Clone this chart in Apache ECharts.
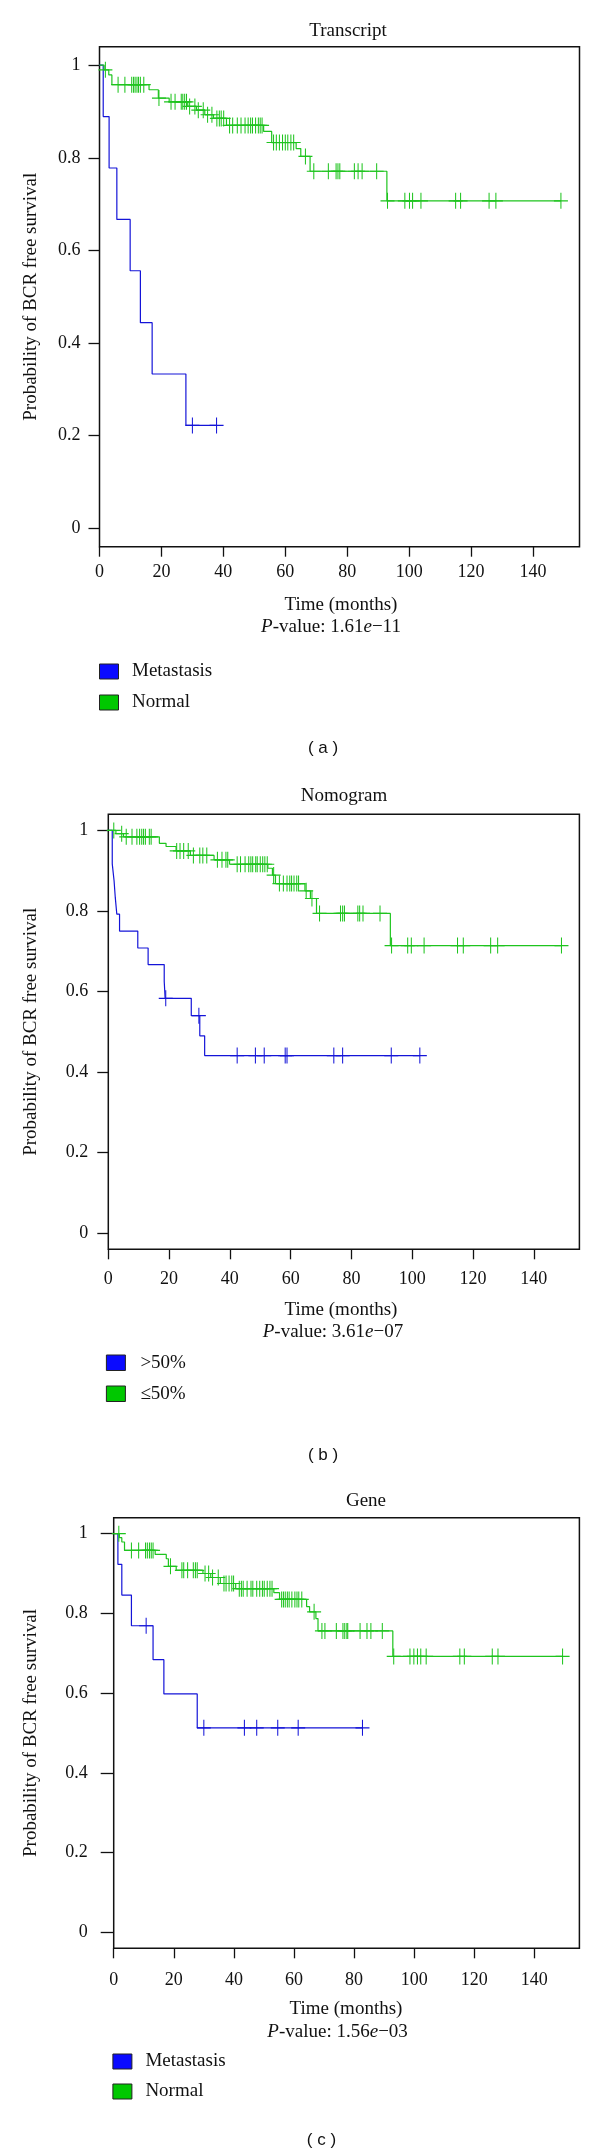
<!DOCTYPE html>
<html>
<head>
<meta charset="utf-8">
<script src="https://cdn.jsdelivr.net/npm/echarts@6/dist/echarts.min.js"></script>
<style>
html,body{margin:0;padding:0;background:#fff;}
#chart{width:600px;height:2154px;}
</style>
</head>
<body>
<div id="chart"></div>
<script>
// ---------- tick labels ----------
const xTicks = [0, 20, 40, 60, 80, 100, 120, 140];
const yTicks = [0, 0.2, 0.4, 0.6, 0.8, 1];

// ---------- titles / texts ----------
const panelTitles = ["Transcript", "Nomogram", "Gene"];
const panelLetters = ["( a )", "( b )", "( c )"];
const pValues = ["1.61", "3.61", "1.56"];
const pExps = ["\u221211", "\u221207", "\u221203"];
const legendNamesA = ["Metastasis", "Normal"];
const legendNamesB = [">50%", "\u226450%"];
const legendNamesC = ["Metastasis", "Normal"];

// ---------- (a) Transcript ----------
const transcriptMetTimes = [0, 1.2, 3.1, 5.6, 9.9, 13.2, 17, 27.9];
const transcriptMetSurv = [1, 0.889, 0.778, 0.667, 0.556, 0.444, 0.333, 0.222];
const transcriptMetCensor = [30, 37.8];

const transcriptNorTimes = [0, 1.5, 3, 4, 16, 19, 22.5, 28.5, 31.3, 34, 36.8, 41, 53, 55.6, 63.5, 65, 68, 92.8];
const transcriptNorSurv = [1, 0.990, 0.979, 0.958, 0.947, 0.929, 0.921, 0.911, 0.903, 0.893, 0.885, 0.870, 0.857, 0.833, 0.820, 0.803, 0.771, 0.707];
const transcriptNorCensor = [1.9, 6, 8.2, 10.4, 11, 11.5, 12.1, 12.6, 13.2, 14.3, 19.2, 23.1, 24.4, 26.4, 26.9, 27.5, 28.1, 29.1, 30.8, 31.9, 33.5, 34.9, 36.3, 37.9, 38.7, 39.3, 40.1, 42, 43, 44.5, 45.7, 47, 48, 48.8, 49.4, 50.4, 51.3, 51.9, 52.5, 56.2, 57.1, 58.1, 59.1, 60, 60.8, 61.8, 62.7, 66.5, 69.2, 73.9, 76.4, 77, 77.6, 82.3, 83.5, 84.8, 89.5, 93, 98.6, 100.1, 101.1, 103.8, 115, 116.6, 125.8, 128, 149];

// ---------- (b) Nomogram ----------
const nomoHighTimes = [0, 1.3, 1.9, 2.3, 2.8, 3.7, 9.7, 13.1, 18.4, 18.7, 27.3, 30.1, 31.7];
const nomoHighSurv = [1, 0.917, 0.875, 0.833, 0.792, 0.75, 0.708, 0.667, 0.625, 0.583, 0.54, 0.49, 0.441];
const nomoHighCensor = [18.9, 29.8, 42.4, 48.4, 51.3, 58.2, 58.8, 74.2, 77.1, 93.1, 102.5];

const nomoLowTimes = [0, 2.5, 5, 16.8, 19, 22.3, 27, 34.8, 39.9, 52.5, 54, 55, 64.7, 66.5, 68.5, 92.8];
const nomoLowSurv = [1, 0.992, 0.984, 0.968, 0.96, 0.949, 0.938, 0.927, 0.916, 0.906, 0.889, 0.868, 0.850, 0.831, 0.794, 0.714];
const nomoLowCensor = [1.8, 4.4, 5.9, 7.8, 9.4, 10.3, 11, 11.6, 12.2, 13.5, 14.1, 22.5, 23.6, 24.8, 26.3, 28, 30.1, 31.1, 32.4, 35.9, 37.4, 38.7, 39.3, 42.4, 43.5, 45, 46.2, 46.9, 47.5, 48.5, 49, 50, 50.8, 51.5, 52.3, 54.4, 56.3, 57.6, 58.8, 59.7, 60.3, 61.1, 62, 62.6, 65.1, 67, 69.5, 76.4, 77.1, 77.7, 82.1, 82.7, 83.8, 89.4, 93.2, 98.5, 99.7, 103.9, 114.9, 116.8, 125.8, 128.1, 149.1];

// ---------- (c) Gene ----------
const geneMetTimes = [0, 1.4, 2.7, 5.9, 13.1, 16.7, 27.8];
const geneMetSurv = [1, 0.923, 0.846, 0.769, 0.684, 0.598, 0.513];
const geneMetCensor = [10.8, 30, 43.5, 47.6, 54.6, 61.4, 82.8];

const geneNorTimes = [0, 1.9, 2.7, 3.6, 13.8, 17.5, 18.2, 20.8, 29.7, 32.3, 35.5, 40.6, 53.3, 55.2, 64.2, 65.2, 67.3, 68, 92.9];
const geneNorSurv = [1, 0.99, 0.979, 0.958, 0.948, 0.937, 0.918, 0.908, 0.9, 0.89, 0.875, 0.862, 0.852, 0.835, 0.817, 0.804, 0.787, 0.756, 0.692];
const geneNorCensor = [1.7, 5.9, 8.3, 10.6, 11.2, 11.9, 12.5, 13.1, 18.9, 22.7, 23.3, 24.6, 26.5, 27.2, 27.8, 30.4, 31.6, 32.9, 34.8, 36.7, 37.4, 38.4, 39.3, 39.9, 41.8, 42.5, 43.1, 44.4, 45.7, 46.3, 47.6, 48.6, 49.5, 50.1, 51.1, 52, 52.7, 55.9, 56.5, 57.1, 57.8, 58.4, 59.3, 60.3, 61, 61.6, 62.6, 66.7, 69.3, 70.3, 74.1, 76.3, 76.9, 77.6, 77.9, 82, 84.3, 85.6, 89.4, 93.2, 98.6, 99.9, 101.1, 102.2, 104, 115.2, 116.7, 126, 127.9, 149.4];

// ---------- helpers ----------
const SERIF = '"Liberation Serif", "Times New Roman", serif';
const SANS = '"Liberation Sans", Arial, sans-serif';
const BLUE = '#1414d8';
const GREEN = '#1ec41e';
const BLUE_FILL = '#0a0aff';
const GREEN_FILL = '#00c800';
const INK = '#111';

function survAt(times, surv, t) {
  let s = surv[0];
  for (let i = 0; i < times.length; i++) { if (times[i] <= t) s = surv[i]; }
  return s;
}
function stepPoints(times, surv, censor) {
  const pts = times.map((t, i) => [t, surv[i]]);
  const lastT = Math.max(times[times.length - 1], censor.length ? censor[censor.length - 1] : 0);
  pts.push([lastT, surv[surv.length - 1]]);
  return pts;
}
function censorPoints(times, surv, censor) {
  return censor.map(c => [c, survAt(times, surv, c)]);
}

const panels = [
  { grid: {left: 99.5, top: 46.7, width: 480, height: 500}, xMargin: 17, yMargin: 19, yTick: 11,
    groups: [[transcriptMetTimes, transcriptMetSurv, transcriptMetCensor], [transcriptNorTimes, transcriptNorSurv, transcriptNorCensor]],
    title: [348, 31], xName: [341, 605], pv: [331, 627], yName: [30.6, 296.7],
    legendX: 99.5, legendTextX: 132, legendY: [664, 695], legendH: 15, legendNames: legendNamesA, letter: [323, 748] },
  { grid: {left: 108.3, top: 814.3, width: 471.1, height: 435}, xMargin: 21, yMargin: 20, yTick: 11,
    groups: [[nomoHighTimes, nomoHighSurv, nomoHighCensor], [nomoLowTimes, nomoLowSurv, nomoLowCensor]],
    title: [344, 796], xName: [341, 1310], pv: [333, 1332], yName: [30.6, 1031.8],
    legendX: 106.4, legendTextX: 140.4, legendY: [1355, 1386], legendH: 15.5, legendNames: legendNamesB, letter: [323, 1455] },
  { grid: {left: 113.7, top: 1517.7, width: 465.7, height: 430.6}, xMargin: 23, yMargin: 26, yTick: 13,
    groups: [[geneMetTimes, geneMetSurv, geneMetCensor], [geneNorTimes, geneNorSurv, geneNorCensor]],
    title: [366, 1501], xName: [346, 2009], pv: [337.6, 2032], yName: [30.6, 1733],
    legendX: 112.9, legendTextX: 145.4, legendY: [2054, 2084], legendH: 15, legendNames: legendNamesC, letter: [321.5, 2140] }
];

const grids = [], xAxes = [], yAxes = [], series = [], graphics = [];
const plusPath = 'path://M7,0L7,16M0,8L14,8';

function textEl(x, y, text, font, extra) {
  return Object.assign({ type: 'text', x: x, y: y, silent: true,
    style: { text: text, font: font, fill: INK, align: 'center', verticalAlign: 'middle',
             textAlign: 'center', textVerticalAlign: 'middle' } }, extra || {});
}

panels.forEach((p, i) => {
  grids.push(Object.assign({ show: true, borderColor: INK, borderWidth: 1.5, backgroundColor: 'transparent', containLabel: false }, p.grid));
  xAxes.push({ gridIndex: i, type: 'value', min: 0, max: 155, interval: 20,
    axisLine: { show: false, onZero: false },
    splitLine: { show: false },
    axisTick: { show: true, length: 10, customValues: xTicks, lineStyle: { color: INK, width: 1.3 } },
    axisLabel: { customValues: xTicks, margin: p.xMargin, fontSize: 18, fontFamily: SERIF, color: INK,
      formatter: v => String(v) } });
  yAxes.push({ gridIndex: i, type: 'value', min: -0.04, max: 1.04,
    axisLine: { show: false, onZero: false },
    splitLine: { show: false },
    axisTick: { show: true, length: p.yTick, customValues: yTicks, lineStyle: { color: INK, width: 1.3 } },
    axisLabel: { customValues: yTicks, margin: p.yMargin, fontSize: 18, fontFamily: SERIF, color: INK,
      formatter: v => String(+v.toFixed(1)) } });

  const cols = [BLUE, GREEN];
  p.groups.forEach((g, k) => {
    series.push({ type: 'line', xAxisIndex: i, yAxisIndex: i, step: 'end', showSymbol: false, silent: true,
      animation: false, lineStyle: { color: cols[k], width: 1.2 }, data: stepPoints(g[0], g[1], g[2]), z: 2 + k });
  });
  p.groups.forEach((g, k) => {
    series.push({ type: 'scatter', xAxisIndex: i, yAxisIndex: i, symbol: plusPath, symbolSize: [14, 16],
      silent: true, animation: false,
      itemStyle: { color: 'rgba(0,0,0,0)', borderColor: cols[k], borderWidth: 1.1, opacity: 1 },
      data: censorPoints(g[0], g[1], g[2]), z: 4 + k });
  });

  // title
  graphics.push(textEl(p.title[0], p.title[1], panelTitles[i], '19px ' + SERIF));
  // y axis name
  graphics.push(textEl(p.yName[0], p.yName[1], 'Probability of BCR free survival', '19px ' + SERIF, { rotation: Math.PI / 2 }));
  // x axis name
  graphics.push(textEl(p.xName[0], p.xName[1], 'Time (months)', '19px ' + SERIF));
  // p-value
  graphics.push({ type: 'text', x: p.pv[0], y: p.pv[1], silent: true,
    style: { text: '{i|P}-value: ' + pValues[i] + '{i|e}' + pExps[i], font: '19px ' + SERIF, fill: INK,
      align: 'center', verticalAlign: 'middle', textAlign: 'center', textVerticalAlign: 'middle',
      rich: { i: { fontStyle: 'italic', fontSize: 19, fontFamily: SERIF, fill: INK } } } });
  // legend
  const fills = [BLUE_FILL, GREEN_FILL];
  p.legendNames.forEach((nm, k) => {
    graphics.push({ type: 'rect', silent: true, shape: { x: p.legendX, y: p.legendY[k], width: 19, height: p.legendH },
      style: { fill: fills[k], stroke: '#222', lineWidth: 1 } });
    graphics.push({ type: 'text', x: p.legendTextX, y: p.legendY[k] + p.legendH / 2, silent: true,
      style: { text: nm, font: '19px ' + SERIF, fill: INK, align: 'left', verticalAlign: 'middle',
               textAlign: 'left', textVerticalAlign: 'middle' } });
  });
  // panel letter
  graphics.push(textEl(p.letter[0], p.letter[1], panelLetters[i], '17px ' + SANS));
});

const chart = echarts.init(document.getElementById('chart'), null, { renderer: 'canvas', width: 600, height: 2154 });
chart.setOption({
  animation: false,
  backgroundColor: '#fff',
  grid: grids,
  xAxis: xAxes,
  yAxis: yAxes,
  series: series,
  graphic: { elements: graphics }
});
</script>
</body>
</html>
